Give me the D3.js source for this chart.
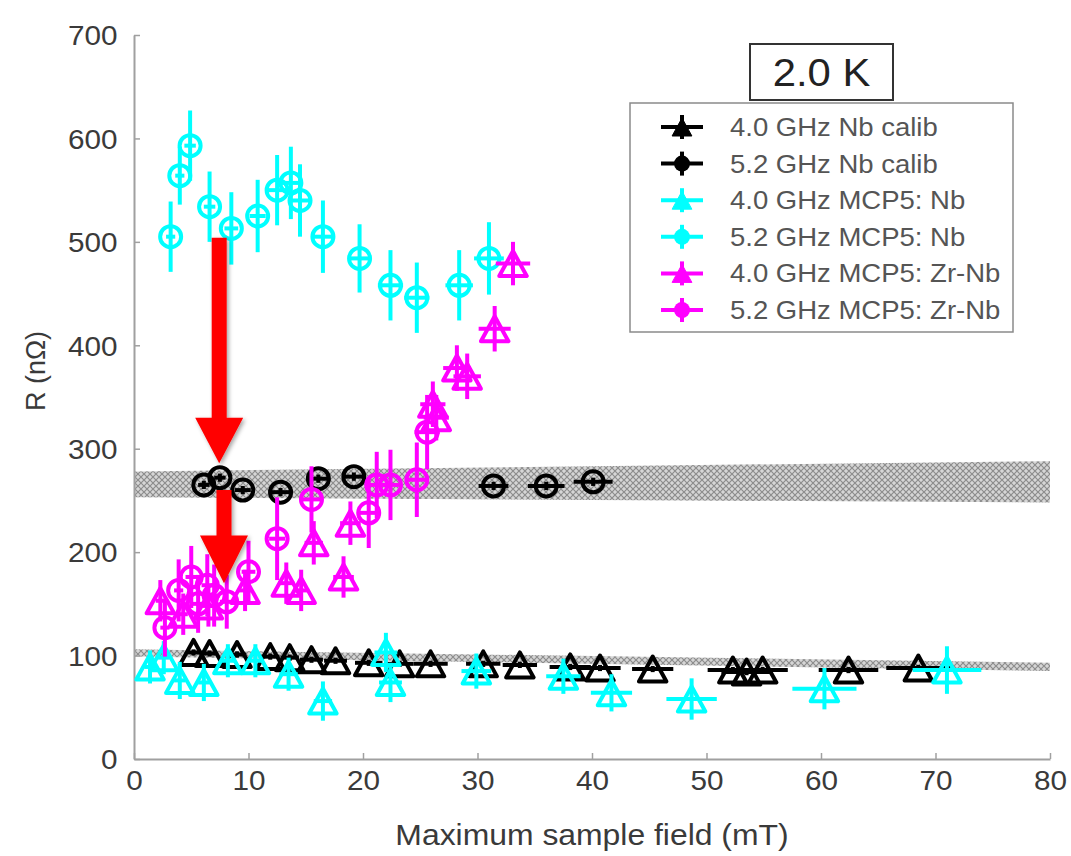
<!DOCTYPE html>
<html><head><meta charset="utf-8">
<script src="https://cdn.jsdelivr.net/npm/d3@7"></script>
<style>body{margin:0;background:#fff}svg{display:block;font-family:"Liberation Sans",Arial,sans-serif}</style>
</head><body>
<script>
// ---------- data ----------
const xTicks = [0,10,20,30,40,50,60,70,80];
const yTicks = [0,100,200,300,400,500,600,700];
const seriesNames = ["4.0 GHz Nb calib","5.2 GHz Nb calib","4.0 GHz MCP5: Nb","5.2 GHz MCP5: Nb","4.0 GHz MCP5: Zr-Nb","5.2 GHz MCP5: Zr-Nb"];
const seriesColors = ["#000000","#000000","#00ffff","#00ffff","#ff00ff","#ff00ff"];
const seriesShapes = ["tri","circ","tri","circ","tri","circ"];

const calib40X = [5.2,6.6,9.0,11.9,13.6,15.5,17.6,20.5,23.2,25.9,30.5,33.7,38.1,40.7,45.3,52.3,53.5,54.9,62.4,68.5];
const calib40Y = [103,102,101,99,98,96,95,93,92,92,92,91,89,88,87,86,84,86,86,88];
const calib40XErr = [0.5,0.5,0.8,0.8,0.8,1,1,1.2,1.2,1.5,1.5,1.5,1.8,1.8,1.8,2.2,2.2,2.2,2.6,2.8];
const calib40YErr = [3,3,3,3,3,3,3,3,3,3,3,3,3,3,3,3,3,3,3,3];

const calib52X = [6.1,7.5,9.5,12.8,16.1,19.2,31.4,36.0,40.1];
const calib52Y = [265,272,260,258,271,273,264,264,268];
const calib52XErr = [0.5,0.5,0.7,0.8,1,1,1.3,1.6,1.7];
const calib52YErr = [4,4,4,4,4,4,4,4,4];

const nb40X = [1.4,2.6,4.0,6.1,8.2,10.6,13.5,16.5,22.0,22.4,29.9,37.5,41.7,48.7,60.3,71.0];
const nb40Y = [89,98,76,74,95,95,82,56,103,74,85,80,64,58,68,86];
const nb40XErr = [0.5,0.5,0.5,0.5,0.6,0.7,0.8,0.8,1,1,1.3,1.5,1.8,2.2,2.8,3];
const nb40YErr = [16,16,18,18,16,16,16,19,19,19,17,17,18,20,20,23];

const nb52X = [3.2,4.0,4.9,6.6,8.5,10.8,12.5,13.7,14.5,16.5,19.7,22.4,24.7,28.4,31.0];
const nb52Y = [505,564,593,534,513,525,550,557,540,505,484,458,446,458,484];
const nb52XErr = [0.4,0.4,0.5,0.5,0.6,0.7,0.8,0.8,0.8,0.9,1,1.1,1.1,1.2,1.3];
const nb52YErr = [34,28,34,34,35,35,34,35,35,35,33,34,34,34,35];

const zr40X = [2.3,4.3,6.5,9.7,13.3,14.6,15.7,18.3,18.9,26.1,26.4,28.2,29.1,31.5,33.1];
const zr40Y = [153,140,148,163,170,163,209,176,228,343,330,378,370,416,479];
const zr40XErr = [0.4,0.4,0.5,0.6,0.7,0.7,0.8,0.9,0.9,1.1,1.1,1.2,1.2,1.4,1.5];
const zr40YErr = [20,20,20,20,20,20,21,20,21,22,22,22,22,22,21];

const zr52X = [2.7,3.9,5.0,5.6,6.4,7.0,8.1,10.0,12.5,15.5,20.5,21.2,22.4,24.7,25.6];
const zr52Y = [127,163,176,150,168,158,152,181,213,251,238,265,265,270,316];
const zr52XErr = [0.4,0.4,0.5,0.5,0.5,0.5,0.6,0.6,0.7,0.8,0.9,0.9,1,1,1.1];
const zr52YErr = [28,30,30,28,30,30,26,30,40,32,34,32,34,36,36];

// shaded fit bands (x at ends, lower/upper R)
const bandX = [0,80];
const upperBandLo = [253,248];
const upperBandHi = [278,288];
const lowerBandLo = [99,85];
const lowerBandHi = [106,93];

// annotation arrows (x in mT, R values for top, head base, tip)
const arrowX = [7.44,7.86];
const arrowTop = [504,260];
const arrowHeadBase = [330,216];
const arrowTip = [286,170];

// ---------- layout ----------
const W = 1071, H = 856;
const x = d3.scaleLinear().domain([0,80]).range([134,1050]);
const y = d3.scaleLinear().domain([0,700]).range([759,35]);
const SX = 1.1; // horizontal text stretch of the original

const svg = d3.select("body").append("svg").attr("width",W).attr("height",H);
const defs = svg.append("defs");
const pat = defs.append("pattern").attr("id","hatch").attr("patternUnits","userSpaceOnUse").attr("width",6).attr("height",6);
pat.append("rect").attr("width",6).attr("height",6).attr("fill","#d6d6d6");
pat.append("path").attr("d","M0,0L6,6M6,0L0,6").attr("stroke","#8c8c8c").attr("stroke-width",1.2);
const sh = defs.append("filter").attr("id","shadow").attr("x","-30%").attr("y","-30%").attr("width","160%").attr("height","160%");
sh.append("feDropShadow").attr("dx",2).attr("dy",2).attr("stdDeviation",2).attr("flood-color","#000").attr("flood-opacity",0.35);

// bands
function band(lo, hi){
  const d = bandX.map((v,i)=>({x:v,lo:lo[i],hi:hi[i]}));
  svg.append("path").datum(d)
    .attr("d", d3.area().x(p=>x(p.x)).y0(p=>y(p.lo)).y1(p=>y(p.hi)))
    .attr("fill","url(#hatch)");
}
band(upperBandLo, upperBandHi);
band(lowerBandLo, lowerBandHi);

// axes
const axCol = "#a0a0a0", txtCol = "#3a3a3a";
const gx = svg.append("g").attr("transform",`translate(0,${y(0)})`)
  .call(d3.axisBottom(x).tickValues(xTicks).tickSize(-6).tickPadding(12).tickSizeOuter(0).tickFormat(d3.format("d")));
const gy = svg.append("g").attr("transform",`translate(${x(0)},0)`)
  .call(d3.axisLeft(y).tickValues(yTicks).tickSize(-6).tickPadding(15).tickSizeOuter(0).tickFormat(d3.format("d")));
[gx,gy].forEach(g=>{
  g.select(".domain").attr("stroke",axCol).attr("stroke-width",2);
  g.selectAll(".tick line").attr("stroke",axCol).attr("stroke-width",1.5);
  g.selectAll(".tick text").attr("fill",txtCol).attr("font-size",27).attr("font-family",'"Liberation Sans",Arial,sans-serif')
   .attr("transform",`scale(${SX},1)`);
});
gy.selectAll(".tick text").attr("dy","0.36em");

svg.append("text").attr("transform",`translate(${(x(0)+x(80))/2},845) scale(${SX},1)`)
  .attr("text-anchor","middle").attr("font-size",29).attr("fill",txtCol).text("Maximum sample field (mT)");
svg.append("text").attr("transform",`translate(45,371) rotate(-90)`)
  .attr("text-anchor","middle").attr("font-size",27).attr("fill",txtCol).text("R (nΩ)");

// markers
function triPath(s){ const w=s*0.55, h=s*0.5; return `M0,${-h}L${w},${h}L${-w},${h}Z`; }
function drawSeries(X,Y,XE,YE,color,shape){
  const g = svg.append("g");
  const d = X.map((v,i)=>({x:v,y:Y[i],xe:XE[i],ye:YE[i]}));
  g.selectAll("line.v").data(d).join("line")
    .attr("x1",p=>x(p.x)).attr("x2",p=>x(p.x)).attr("y1",p=>y(p.y-p.ye)).attr("y2",p=>y(p.y+p.ye))
    .attr("stroke",color).attr("stroke-width",4);
  g.selectAll("line.h").data(d).join("line")
    .attr("x1",p=>x(p.x-p.xe)).attr("x2",p=>x(p.x+p.xe)).attr("y1",p=>y(p.y)).attr("y2",p=>y(p.y))
    .attr("stroke",color).attr("stroke-width",4);
  if(shape==="circ"){
    g.selectAll("circle").data(d).join("circle").attr("cx",p=>x(p.x)).attr("cy",p=>y(p.y)).attr("r",10.5)
      .attr("fill","none").attr("stroke",color).attr("stroke-width",4);
  } else {
    g.selectAll("path").data(d).join("path").attr("d",triPath(25))
      .attr("transform",p=>`translate(${x(p.x)},${y(p.y)})`)
      .attr("fill","none").attr("stroke",color).attr("stroke-width",4).attr("stroke-linejoin","round");
  }
}
drawSeries(calib40X,calib40Y,calib40XErr,calib40YErr,seriesColors[0],seriesShapes[0]);
drawSeries(calib52X,calib52Y,calib52XErr,calib52YErr,seriesColors[1],seriesShapes[1]);
drawSeries(nb40X,nb40Y,nb40XErr,nb40YErr,seriesColors[2],seriesShapes[2]);
drawSeries(nb52X,nb52Y,nb52XErr,nb52YErr,seriesColors[3],seriesShapes[3]);
drawSeries(zr40X,zr40Y,zr40XErr,zr40YErr,seriesColors[4],seriesShapes[4]);
drawSeries(zr52X,zr52Y,zr52XErr,zr52YErr,seriesColors[5],seriesShapes[5]);

// arrows
arrowX.forEach((ax,i)=>{
  const cx = x(ax), sw=7.5, hw=24;
  const t=y(arrowTop[i]), b=y(arrowHeadBase[i]), tip=y(arrowTip[i]);
  svg.append("path").attr("d",`M${cx-sw},${t}L${cx+sw},${t}L${cx+sw},${b}L${cx+hw},${b}L${cx},${tip}L${cx-hw},${b}L${cx-sw},${b}Z`)
    .attr("fill","#ff0000").attr("filter","url(#shadow)");
});

// title box
svg.append("rect").attr("x",750).attr("y",44).attr("width",143).attr("height",56).attr("fill","#fff").attr("stroke","#333").attr("stroke-width",2);
svg.append("text").attr("transform",`translate(821.5,86) scale(${SX},1)`).attr("text-anchor","middle").attr("font-size",38).attr("fill","#222").text("2.0 K");

// legend
svg.append("rect").attr("x",630).attr("y",103).attr("width",383).attr("height",229).attr("fill","#fff").attr("stroke","#8a8a8a").attr("stroke-width",1.5);
seriesNames.forEach((name,i)=>{
  const cy = 127 + i*36.6, cx = 682, c = seriesColors[i];
  const g = svg.append("g");
  g.append("line").attr("x1",cx-21).attr("x2",cx+21).attr("y1",cy).attr("y2",cy).attr("stroke",c).attr("stroke-width",4);
  g.append("line").attr("x1",cx).attr("x2",cx).attr("y1",cy-12).attr("y2",cy+12).attr("stroke",c).attr("stroke-width",4);
  if(seriesShapes[i]==="circ") g.append("circle").attr("cx",cx).attr("cy",cy).attr("r",8).attr("fill",c);
  else g.append("path").attr("d",triPath(18)).attr("transform",`translate(${cx},${cy})`).attr("fill",c).attr("stroke",c).attr("stroke-width",1);
  svg.append("text").attr("transform",`translate(730,${cy+9}) scale(${SX},1)`).attr("font-size",25).attr("fill","#555").text(name);
});
</script>
</body></html>
